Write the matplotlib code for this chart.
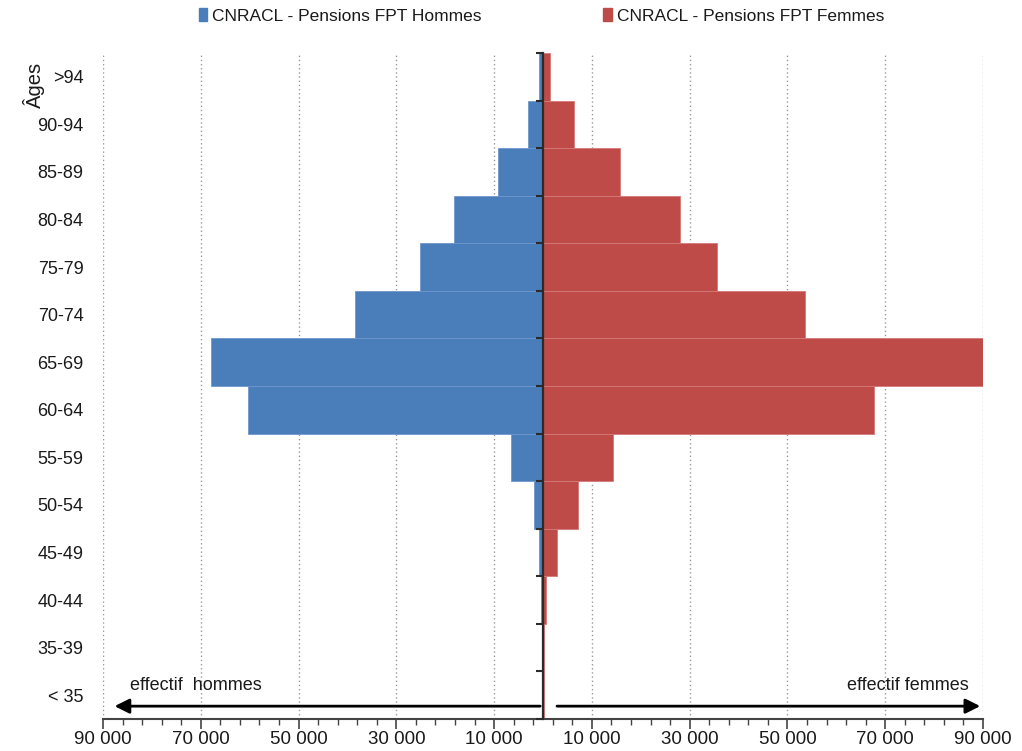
import numpy as np
import matplotlib.pyplot as plt
from matplotlib.patches import Patch
from matplotlib.ticker import FixedLocator, FuncFormatter

plt.rcParams['font.family'] = ['Liberation Sans', 'DejaVu Sans']

# age groups, bottom to top
ages = ['< 35', '35-39', '40-44', '45-49', '50-54', '55-59', '60-64',
        '65-69', '70-74', '75-79', '80-84', '85-89', '90-94', '>94']
hommes = [80, 150, 400, 800, 1800, 6500, 60300, 67900, 38400, 25100, 18200, 9300, 3000, 900]
femmes = [150, 250, 600, 2900, 7200, 14300, 67700, 90000, 53600, 35600, 28000, 15700, 6300, 1400]

blue = '#4A7EBB'
red = '#BE4B48'
txt = '#1a1a1a'

y = np.arange(len(ages))

fig = plt.figure(figsize=(10.22, 7.51), dpi=100)
ax = fig.add_axes([103 / 1022, 1 - 719 / 751, 880 / 1022, 666 / 751])

ax.barh(y, [-h for h in hommes], height=1.0, color=blue, edgecolor='#6E97CC', linewidth=0.6, zorder=2)
ax.barh(y, femmes, height=1.0, color=red, edgecolor='#D47A78', linewidth=0.6, zorder=2)

ax.set_xlim(-90000, 90000)
ax.set_ylim(-0.5, len(ages) - 0.5)

# x axis: absolute values on both sides
ax.xaxis.set_major_locator(FixedLocator(np.arange(-90000, 90001, 20000)))
ax.xaxis.set_minor_locator(FixedLocator(np.arange(-90000, 90001, 4000)))
ax.xaxis.set_major_formatter(FuncFormatter(lambda v, p: f'{abs(int(round(v))):,}'.replace(',', ' ')))
ax.tick_params(axis='x', which='major', length=7, width=1.2, color='#444444',
               labelsize=13.5, labelcolor=txt, pad=2)
ax.tick_params(axis='x', which='minor', length=4, width=1, color='#444444')
ax.grid(axis='x', which='major', linestyle=(0, (1, 2)), color='#999999', linewidth=1, zorder=0)

# category labels on the left
ax.set_yticks(y)
ax.set_yticklabels(ages)
ax.tick_params(axis='y', length=0, labelsize=13, labelcolor=txt, pad=14)

for s in ['top', 'right', 'left']:
    ax.spines[s].set_visible(False)
ax.spines['bottom'].set_color('#444444')
ax.spines['bottom'].set_linewidth(1.5)

# central axis with ticks between age groups
sec = ax.secondary_yaxis(0.5)
sec.set_alignment('left')
sec.set_zorder(4)
sec.set_yticks(np.arange(-0.5, len(ages), 1.0))
sec.set_yticklabels([])
sec.tick_params(length=5, width=1.5, color='#2b2b2b', direction='out')
for s in sec.spines.values():
    s.set_color('#2b2b2b')
    s.set_linewidth(1.6)

# arrows and captions
ax.annotate('', xy=(-88200, -0.23), xytext=(0, -0.23),
            arrowprops=dict(arrowstyle='-|>', lw=2, color='black', mutation_scale=22), zorder=3)
ax.annotate('', xy=(90000, -0.23), xytext=(2300, -0.23),
            arrowprops=dict(arrowstyle='-|>', lw=2, color='black', mutation_scale=22), zorder=3)
ax.text(-84500, 0.2, 'effectif  hommes', fontsize=13, color=txt, va='center', ha='left')
ax.text(87000, 0.2, 'effectif femmes', fontsize=13, color=txt, va='center', ha='right')

fig.text(34 / 1022, 1 - 85 / 751, 'Âges', rotation=90, fontsize=14.5, color=txt,
         ha='center', va='center')

handles = [Patch(color=blue, label='CNRACL - Pensions FPT Hommes'),
           Patch(color=red, label='CNRACL - Pensions FPT Femmes')]
fig.legend(handles=handles, loc='center', bbox_to_anchor=(0.53, 1 - 16 / 751), ncol=2,
           frameon=False, fontsize=12.5, handlelength=0.5, handleheight=0.8,
           handletextpad=0.3, columnspacing=7, labelcolor=txt)

fig.savefig('out.png', dpi=100)
